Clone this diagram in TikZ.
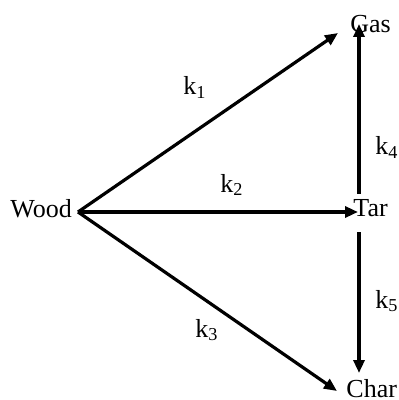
\documentclass[tikz,border=0pt]{standalone}
\usepackage{fontspec}
\setmainfont{Liberation Serif}
\usetikzlibrary{arrows.meta}
\begin{document}
\begin{tikzpicture}[x=0.5pt,y=-0.5pt,
  lbl/.style={inner sep=0pt,anchor=base west,font=\fontsize{13}{15}\selectfont},
  arr/.style={line width=1.6pt,-{Triangle[length=6.5pt,width=5.5pt]}}]
\useasboundingbox (0,0) rectangle (398,400);
\node[lbl] (wood) at (10,218) {Wood};
\node[lbl] (gas) at (350,33) {Gas};
\node[lbl] (tar) at (353,217) {Tar};
\node[lbl] (char) at (346,397) {Char};
\coordinate (w) at (78,212);
\coordinate (gasin) at (338,33);
\coordinate (tarin) at (358,212);
\coordinate (charin) at (337,391);
\coordinate (tartop) at (359,194);
\coordinate (gasbot) at (359,24);
\coordinate (tarbot) at (359,232);
\coordinate (chartop) at (359,373);
\draw[arr] (w) -- (gasin);
\draw[arr] (w) -- (tarin);
\draw[arr] (w) -- (charin);
\draw[arr] (tartop) -- (gasbot);
\draw[arr] (tarbot) -- (chartop);
\node[lbl] (k1) at (183,95) {k\textsubscript{1}};
\node[lbl] (k2) at (220,192) {k\textsubscript{2}};
\node[lbl] (k3) at (195,337) {k\textsubscript{3}};
\node[lbl] (k4) at (375,155) {k\textsubscript{4}};
\node[lbl] (k5) at (375,308) {k\textsubscript{5}};
\end{tikzpicture}
\end{document}
